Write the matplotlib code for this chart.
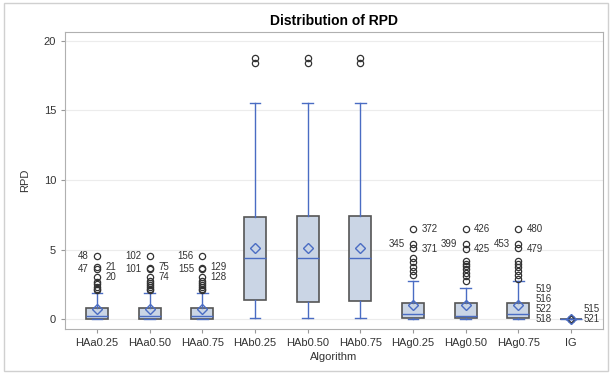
import matplotlib
matplotlib.use('Agg')
import matplotlib.pyplot as plt
from matplotlib.patches import Rectangle

plt.rcParams['font.family'] = ['Liberation Sans', 'DejaVu Sans']

# Werte
algorithms = ['HAa0.25', 'HAa0.50', 'HAa0.75', 'HAb0.25', 'HAb0.50', 'HAb0.75',
              'HAg0.25', 'HAg0.50', 'HAg0.75', 'IG']
q1 = [0.02, 0.02, 0.02, 1.39, 1.26, 1.31, 0.07, 0.07, 0.07, 0.0]
med = [0.24, 0.24, 0.24, 4.42, 4.42, 4.42, 0.36, 0.25, 0.36, 0.0]
q3 = [0.79, 0.79, 0.79, 7.37, 7.42, 7.42, 1.19, 1.15, 1.15, 0.03]
means = [0.72, 0.72, 0.72, 5.1, 5.1, 5.1, 1.03, 1.0, 1.0, 0.01]
whislo = [0.0, 0.0, 0.0, 0.07, 0.07, 0.07, 0.05, 0.05, 0.05, 0.0]
whishi = [1.87, 1.87, 1.87, 15.5, 15.55, 15.55, 2.75, 2.27, 2.75, 0.04]
fliers = [
    [2.1, 2.2, 2.34, 2.53, 2.7, 3.0, 3.6, 3.78, 4.54],
    [2.1, 2.2, 2.34, 2.45, 2.6, 2.72, 3.0, 3.6, 3.7, 4.54],
    [2.1, 2.2, 2.34, 2.45, 2.6, 2.72, 3.0, 3.6, 3.7, 4.54],
    [18.42, 18.78],
    [18.42, 18.78],
    [18.42, 18.78],
    [3.18, 3.49, 3.78, 4.09, 4.38, 5.1, 5.4, 6.48],
    [2.77, 3.1, 3.35, 3.59, 3.83, 4.0, 4.2, 5.05, 5.38, 6.45],
    [2.9, 3.18, 3.49, 3.78, 4.0, 4.2, 5.1, 5.4, 6.45],
    [0.0, 0.0, 0.0, 0.0, 0.0, 0.0],
]

# Beschriftete Ausreisser: (Gruppe, Wert, Text, Seite)
flier_labels = [
    (0, 4.54, '48', 'l'), (0, 3.6, '47', 'l'), (0, 3.78, '21', 'r'), (0, 3.0, '20', 'r'),
    (1, 4.54, '102', 'l'), (1, 3.6, '101', 'l'), (1, 3.72, '75', 'r'), (1, 3.0, '74', 'r'),
    (2, 4.54, '156', 'l'), (2, 3.6, '155', 'l'), (2, 3.72, '129', 'r'), (2, 3.0, '128', 'r'),
    (6, 6.48, '372', 'r'), (6, 5.4, '345', 'l'), (6, 5.05, '371', 'r'),
    (7, 6.45, '426', 'r'), (7, 5.38, '399', 'l'), (7, 5.05, '425', 'r'),
    (8, 6.45, '480', 'r'), (8, 5.4, '453', 'l'), (8, 5.05, '479', 'r'),
    (9, 2.17, '519', 'l'), (9, 1.46, '516', 'l'), (9, 0.74, '522', 'l'),
    (9, 0.74, '515', 'r'), (9, 0.0, '518', 'l'), (9, 0.0, '521', 'r'),
]

stats = []
for i in range(len(algorithms)):
    stats.append({'label': algorithms[i], 'q1': q1[i], 'med': med[i], 'q3': q3[i],
                  'mean': means[i], 'whislo': whislo[i], 'whishi': whishi[i],
                  'fliers': fliers[i]})

blue = '#4a6cc3'
fig = plt.figure(figsize=(6.1, 3.74), dpi=100)
ax = fig.add_axes([0.1066, 0.1203, 0.8820, 0.7950])

ax.bxp(stats, positions=range(1, 11), widths=0.42, showmeans=True, patch_artist=True,
       boxprops=dict(facecolor='#cad5e5', edgecolor='#555555', linewidth=1.2),
       medianprops=dict(color=blue, linewidth=1.0),
       whiskerprops=dict(color=blue, linewidth=1.0),
       capprops=dict(color=blue, linewidth=1.0),
       capwidths=0.2,
       meanprops=dict(marker='D', markerfacecolor='none', markeredgecolor=blue,
                      markersize=5, markeredgewidth=1.0),
       flierprops=dict(marker='o', markerfacecolor='none', markeredgecolor='#333333',
                       markersize=4.5, markeredgewidth=0.9))

for g, v, txt, side in flier_labels:
    if side == 'l':
        off, ha = -14 if g == 9 else -6, 'right'
    else:
        off, ha = 9 if g == 9 else 6, 'left'
    ax.annotate(txt, (g + 1, v), xytext=(off, 0), textcoords='offset points',
                ha=ha, va='center', fontsize=7, color='#333333')

ax.set_xlim(0.393, 10.607)
ax.set_ylim(-0.7, 20.65)
ax.set_yticks([0, 5, 10, 15, 20])
ax.yaxis.grid(True, color='#ececec', linewidth=0.8)
ax.set_axisbelow(True)
for s in ax.spines.values():
    s.set_color('#b0b0b0')
ax.tick_params(colors='#333333', labelsize=8, length=3)
ax.tick_params(axis='both', color='#999999')
ax.set_xlabel('Algorithm', fontsize=8, color='#333333', labelpad=3)
ax.set_ylabel('RPD', fontsize=8, color='#333333', labelpad=10)
ax.set_title('Distribution of RPD', fontsize=10, fontweight='bold', pad=5)

fig.patches.append(Rectangle((0.006, 0.008), 0.99, 0.985, transform=fig.transFigure,
                             fill=False, edgecolor='#d0d0d0', linewidth=1.0))

fig.savefig('out.png', dpi=100)
